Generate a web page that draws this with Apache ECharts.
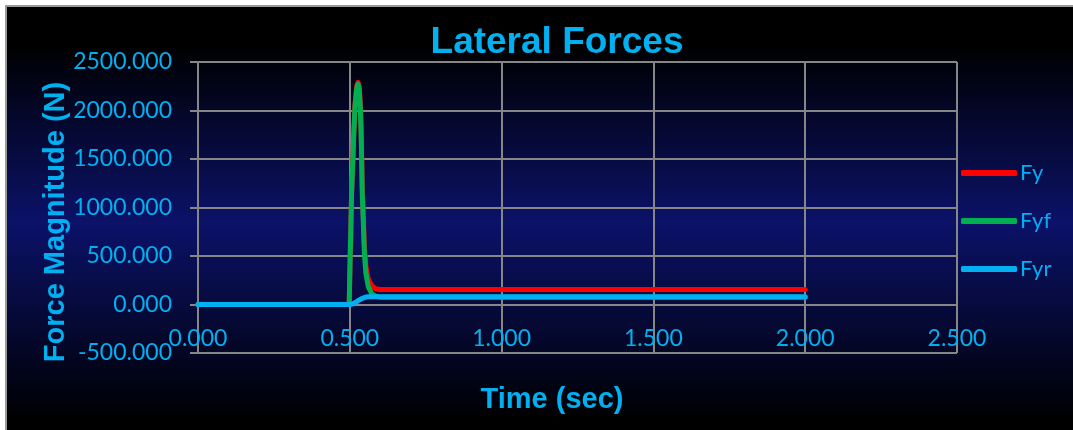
<!DOCTYPE html>
<html>
<head>
<meta charset="utf-8">
<script src="https://cdn.jsdelivr.net/npm/echarts@6/dist/echarts.min.js"></script>
<style>
  html, body { margin: 0; padding: 0; background: #ffffff; width: 1073px; height: 430px; overflow: hidden; }
  #wrap { position: absolute; left: 5px; top: 5px; border-left: 2px solid #9a9a9a; border-top: 2px solid #9a9a9a; }
  #chart { width: 1066px; height: 423px; }
</style>
</head>
<body>
<div id="wrap"><div id="chart"></div></div>
<script>
// ---- data ----
const seriesNames = ['Fy', 'Fyf', 'Fyr'];

const timeFy  = [0.000, 0.498, 0.501, 0.506, 0.512, 0.517, 0.523, 0.527, 0.531, 0.535, 0.538, 0.541, 0.545, 0.548, 0.553, 0.561, 0.572, 0.585, 0.600, 2.000];
const valuesFy = [0, 0, 460, 1150, 1675, 2060, 2260, 2290, 2255, 2055, 1720, 1210, 870, 600, 395, 260, 194, 162, 155, 155];

const timeFyf  = [0.000, 0.498, 0.501, 0.506, 0.512, 0.517, 0.523, 0.527, 0.531, 0.535, 0.538, 0.541, 0.545, 0.548, 0.553, 0.561, 0.572, 0.585, 0.600, 2.000];
const valuesFyf = [0, 0, 458, 1147, 1663, 2041, 2231, 2272, 2214, 2007, 1663, 1147, 802, 530, 320, 182, 114, 85, 76, 75];

const timeFyr  = [0.000, 0.500, 0.510, 0.520, 0.530, 0.540, 0.550, 0.560, 0.580, 2.000];
const valuesFyr = [0, 0, 8, 25, 45, 62, 74, 79, 80, 80];

const xTicks = { min: 0, max: 2.5, step: 0.5 };
const yTicks = { min: -500, max: 2500, step: 500 };

const colors = ['#ff0000', '#00b050', '#00b0f0'];

function pairs(t, v) { return t.map((x, i) => [x, v[i]]); }

const chart = echarts.init(document.getElementById('chart'), null, { renderer: 'canvas' });
const blue = '#00b0f0';
const gridGray = '#868686';
const tickFont = 'Lato, "Noto Sans", sans-serif';
const boldFont = '"Liberation Sans", Arial, sans-serif';

// grid geometry (container px)
const gridTop = 55, gridBottom = 77, chartH = 423;
const plotH = chartH - gridTop - gridBottom;
// x axis sits on the zero line: move it up from the bottom edge
const xAxisOffset = -plotH * (0 - yTicks.min) / (yTicks.max - yTicks.min);

chart.setOption({
  animation: false,
  backgroundColor: {
    type: 'linear', x: 0, y: 0, x2: 0, y2: 1,
    colorStops: [
      { offset: 0.00, color: '#000000' },
      { offset: 0.09, color: '#000000' },
      { offset: 0.51, color: '#0b1268' },
      { offset: 0.97, color: '#000002' },
      { offset: 1.00, color: '#000000' }
    ]
  },
  title: {
    text: 'Lateral Forces',
    left: 545, top: 12, textAlign: 'center',
    textStyle: { color: blue, fontSize: 37, fontWeight: 'bold', fontFamily: boldFont }
  },
  grid: { left: 191, top: gridTop, right: 116, bottom: gridBottom, containLabel: false },
  legend: {
    orient: 'vertical',
    left: 949, top: 150,
    itemWidth: 56, itemHeight: 6, itemGap: 26,
    icon: 'roundRect',
    data: seriesNames,
    textStyle: { color: blue, fontSize: 22, fontFamily: tickFont, lineHeight: 22, padding: [0, 0, 0, -2] }
  },
  xAxis: {
    type: 'value',
    min: xTicks.min, max: xTicks.max, interval: xTicks.step,
    offset: xAxisOffset,
    axisLine: { show: true, onZero: false, lineStyle: { color: gridGray, width: 2 } },
    axisTick: { show: false },
    axisLabel: {
      color: blue, fontSize: 23, fontFamily: tickFont, margin: 23,
      formatter: v => v.toFixed(3)
    },
    splitLine: { show: true, lineStyle: { color: gridGray, width: 2 } }
  },
  yAxis: {
    type: 'value',
    min: yTicks.min, max: yTicks.max, interval: yTicks.step,
    axisLine: { show: true, onZero: false, lineStyle: { color: gridGray, width: 2 } },
    axisTick: { show: true, length: 8, lineStyle: { color: gridGray, width: 2 } },
    axisLabel: {
      color: blue, fontSize: 23, fontFamily: tickFont, margin: 26,
      formatter: v => v.toFixed(3)
    },
    splitLine: { show: true, lineStyle: { color: gridGray, width: 2 } }
  },
  graphic: [
    {
      type: 'text', x: 49, y: 215, rotation: Math.PI / 2,
      style: {
        text: 'Force Magnitude (N)', fill: blue,
        font: 'bold 29px ' + boldFont,
        textAlign: 'center', textVerticalAlign: 'middle'
      }
    },
    {
      type: 'text', x: 545, y: 393,
      style: {
        text: 'Time (sec)', fill: blue,
        font: 'bold 29px ' + boldFont,
        textAlign: 'center', textVerticalAlign: 'middle'
      }
    }
  ],
  series: [
    { name: 'Fy', type: 'line', data: pairs(timeFy, valuesFy), showSymbol: false, symbol: 'none', color: colors[0],
      lineStyle: { width: 5, color: colors[0], cap: 'round', join: 'round' } },
    { name: 'Fyf', type: 'line', data: pairs(timeFyf, valuesFyf), showSymbol: false, symbol: 'none', color: colors[1],
      lineStyle: { width: 5, color: colors[1], cap: 'round', join: 'round' } },
    { name: 'Fyr', type: 'line', data: pairs(timeFyr, valuesFyr), showSymbol: false, symbol: 'none', color: colors[2],
      lineStyle: { width: 5, color: colors[2], cap: 'round', join: 'round' } }
  ]
});
</script>
</body>
</html>
